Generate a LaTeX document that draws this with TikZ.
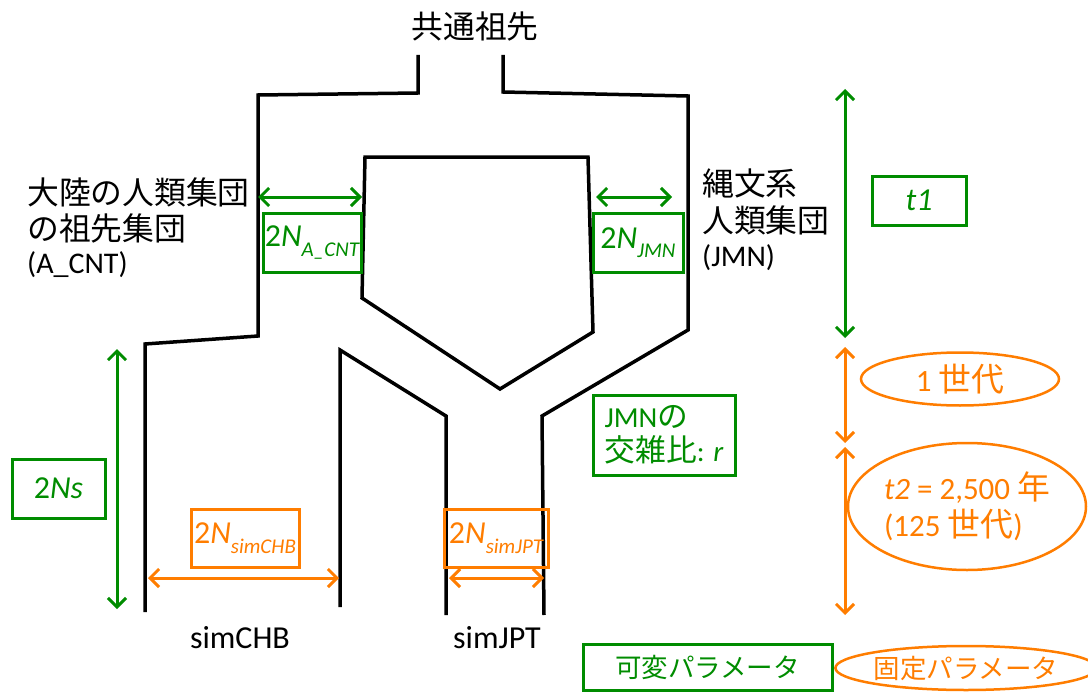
\documentclass[tikz,border=0pt]{standalone}
\usepackage{fontspec}
\setmainfont{Carlito}
\newfontfamily\jp{Noto Sans CJK JP}[Scale=1.06]
\usetikzlibrary{arrows.meta,shapes.geometric}
\definecolor{grn}{RGB}{0,140,0}
\definecolor{org}{RGB}{255,125,0}
\newcommand\subtx[1]{\raisebox{-0.3em}{\fontsize{21}{21}\selectfont\itshape #1}}
\begin{document}
\begin{tikzpicture}[x=1pt,y=-1pt,
  wall/.style={line width=3.5pt},
  garr/.style={draw=grn,line width=3pt,{Straight Barb[length=9pt,width=18pt]}-{Straight Barb[length=9pt,width=18pt]}},
  oarr/.style={garr,draw=org},
  gbox/.style={draw=grn,line width=3pt,text=grn,inner sep=0pt,font=\fontsize{32}{38}\selectfont},
  obox/.style={draw=org,line width=3pt,text=org,inner sep=0pt,font=\fontsize{32}{38}\selectfont},
  oell/.style={ellipse,draw=org,line width=2.5pt,text=org,inner sep=0pt,font=\fontsize{31}{37}\selectfont},
  lbl/.style={inner sep=0pt,font=\fontsize{30}{36}\selectfont},
]
\useasboundingbox (0,0) rectangle (1088,693);

% walls
\draw[wall] (418,55) -- (418,93) -- (258,95) -- (258,336) -- (145,344) -- (145,612);
\draw[wall] (503,55) -- (503,92) -- (688,96) -- (688,330) -- (542,416) -- (544,615);
\draw[wall] (362,298) -- (365,157) -- (588,157) -- (593,332) -- (500,389) -- cycle;
\draw[wall] (340,607) -- (340,350) -- (446,416) -- (446,615);

% arrow endpoints
\coordinate (a1) at (258,197); \coordinate (a2) at (362,197);
\coordinate (b1) at (596,197); \coordinate (b2) at (672,197);
\coordinate (c1) at (117,349); \coordinate (c2) at (117,609);
\coordinate (d1) at (845,89);  \coordinate (d2) at (845,338);
\coordinate (e1) at (845,347); \coordinate (e2) at (845,443);
\coordinate (f1) at (845,447); \coordinate (f2) at (845,615);
\coordinate (g1) at (148,578); \coordinate (g2) at (339,578);
\coordinate (h1) at (449,578); \coordinate (h2) at (544,578);

\draw[garr] (a1) -- (a2);
\draw[garr] (b1) -- (b2);
\draw[garr] (c1) -- (c2);
\draw[garr] (d1) -- (d2);
\draw[oarr] (e1) -- (e2);
\draw[oarr] (f1) -- (f2);
\draw[oarr] (g1) -- (g2);
\draw[oarr] (h1) -- (h2);

% labels
\node[lbl] (top) at (475,26) {\jp 共通祖先};
\node[lbl,anchor=west] (L1) at (27,192) {\jp 大陸の人類集団};
\node[lbl,anchor=west] (L2) at (27,228) {\jp の祖先集団};
\node[lbl,anchor=west] (L3) at (27,265) {(A\_CNT)};
\node[lbl,anchor=west] (R1) at (702,183) {\jp 縄文系};
\node[lbl,anchor=west] (R2) at (702,220) {\jp 人類集団};
\node[lbl,anchor=west] (R3) at (702,258) {(JMN)};
\node[lbl,font=\fontsize{32}{36}\selectfont] (sc) at (240,638) {simCHB};
\node[lbl,font=\fontsize{32}{36}\selectfont] (sj) at (497,638) {simJPT};

% green boxes
\node[gbox,minimum width=98pt,minimum height=59pt] (nA) at (312,242.5) {2\textit{N}\subtx{A\_CNT}};
\node[gbox,minimum width=90pt,minimum height=59pt] (nJ) at (638,242.5) {2\textit{N}\subtx{JMN}};
\node[gbox,minimum width=94pt,minimum height=49pt] (t1) at (919,200.5) {\textit{t1}};
\node[gbox,minimum width=93pt,minimum height=59pt] (ns) at (58.5,488.5) {2\textit{Ns}};
\node[gbox,minimum width=142pt,minimum height=80pt,align=left,font=\fontsize{29}{34}\selectfont] (r) at (664,435) {JMN{\jp の}\\{\jp 交雑比}: \textit{r}};

% orange boxes
\node[obox,minimum width=108pt,minimum height=58pt] (nC) at (245,538) {2\textit{N}\subtx{simCHB}};
\node[obox,minimum width=104pt,minimum height=58pt] (nP) at (496,538) {2\textit{N}\subtx{simJPT}};

% ellipses
\node[oell,minimum width=198pt,minimum height=53pt] (g1e) at (960,379) {1 {\jp 世代}};
\node[oell,minimum width=238pt,minimum height=127pt,align=left] (t2) at (967,506.5) {\textit{t2} = 2,500 {\jp 年}\\(125 {\jp 世代})};

% legend
\node[gbox,minimum width=249pt,minimum height=46pt,font=\fontsize{25}{30}\selectfont] (lg) at (707.5,667) {\jp 可変パラメータ};
\node[oell,minimum width=242pt,minimum height=44pt,font=\fontsize{25}{30}\selectfont] (lo) at (966,668) {\jp 固定パラメータ};
\end{tikzpicture}
\end{document}
